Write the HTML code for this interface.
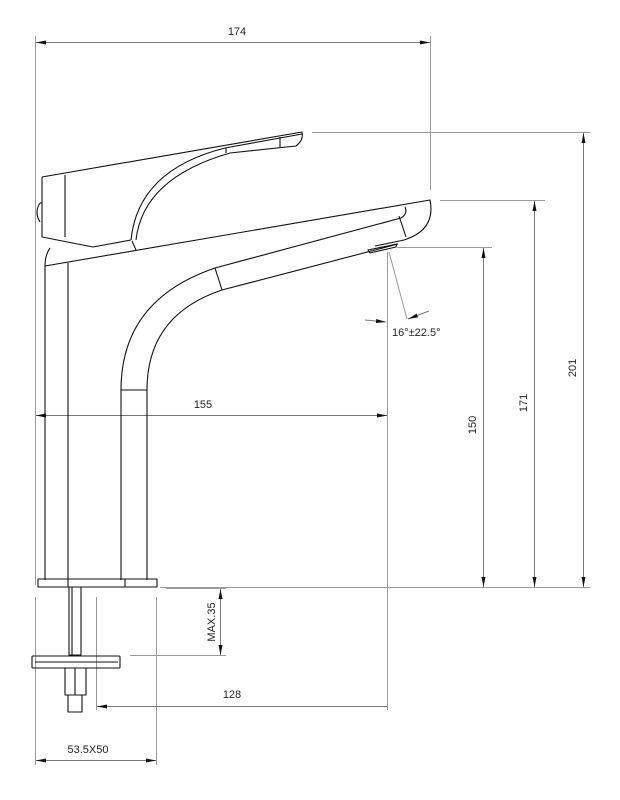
<!DOCTYPE html>
<html><head><meta charset="utf-8"><style>
html,body{margin:0;padding:0;background:#fff;}
svg{display:block;}
text{font-family:"Liberation Sans",sans-serif;font-size:11px;fill:#222;}
</style></head><body>
<svg width="620" height="800" viewBox="0 0 620 800" xmlns="http://www.w3.org/2000/svg">
<defs>
<marker id="a" viewBox="0 0 10 4" refX="10" refY="2" markerWidth="10" markerHeight="4" orient="auto-start-reverse" markerUnits="userSpaceOnUse"><path d="M0,0 L10,2 L0,4 z" fill="#111"/></marker>
</defs>
<g stroke="#999" stroke-width="1" fill="none">
<line x1="35.5" y1="36" x2="35.5" y2="585"/>
<line x1="430.5" y1="36" x2="430.5" y2="190"/>
<line x1="312" y1="132.5" x2="590" y2="132.5"/>
<line x1="440" y1="200.5" x2="545" y2="200.5"/>
<line x1="397" y1="247.5" x2="492" y2="247.5"/>
<line x1="160" y1="587.5" x2="590" y2="587.5"/>
<line x1="387.5" y1="252" x2="387.5" y2="710"/>
<line x1="166" y1="588.5" x2="226" y2="588.5"/>
<line x1="130" y1="655.5" x2="226" y2="655.5"/>
<line x1="96.5" y1="597" x2="96.5" y2="710"/>
<line x1="35.5" y1="597" x2="35.5" y2="765"/>
<line x1="156.5" y1="597" x2="156.5" y2="765"/>
<line x1="389" y1="252" x2="407" y2="319"/>
</g>
<g stroke="#777" stroke-width="1" fill="none">
<line x1="36" y1="42.5" x2="430" y2="42.5" marker-start="url(#a)" marker-end="url(#a)"/>
<line x1="583.5" y1="133" x2="583.5" y2="587" marker-start="url(#a)" marker-end="url(#a)"/>
<line x1="534.5" y1="201" x2="534.5" y2="587" marker-start="url(#a)" marker-end="url(#a)"/>
<line x1="483.5" y1="248" x2="483.5" y2="587" marker-start="url(#a)" marker-end="url(#a)"/>
<line x1="36" y1="415.5" x2="387" y2="415.5" marker-start="url(#a)" marker-end="url(#a)"/>
<line x1="97" y1="706.5" x2="387" y2="706.5" marker-start="url(#a)"/>
<line x1="220.5" y1="589" x2="220.5" y2="655" marker-start="url(#a)" marker-end="url(#a)"/>
<line x1="36" y1="760.5" x2="156" y2="760.5" marker-start="url(#a)" marker-end="url(#a)"/>
<line x1="365" y1="320" x2="386" y2="322" marker-end="url(#a)"/>
<line x1="429" y1="311" x2="408" y2="319" marker-end="url(#a)"/>
</g>
<g stroke="#111" stroke-width="1.1" fill="none" stroke-linejoin="round">
<!-- lever -->
<path d="M42,177 L302,132 Q304,140 296,146 L230,153"/>
<path d="M42,177 L42,237 L93,247 L131,240"/>
<line x1="65" y1="175" x2="65" y2="237"/>
<path d="M136,240 Q143,178 230,153"/>
<path d="M131,240 Q138,170 225,148 L302,134"/>
<line x1="226" y1="148" x2="226" y2="153"/>
<line x1="280" y1="137" x2="280" y2="148"/>
<path d="M40,203 Q34,212 40,222"/>
<line x1="40" y1="203" x2="42" y2="203"/>
<!-- body -->
<path d="M45,266 L430,200 Q436,230 404,240 L375,246"/>
<path d="M50,248 Q45,255 45,266"/>
<path d="M132,241 L136,250"/>
<path d="M405,207 Q408,214 401,218 L215,268 Q121,300 121,390 L121,580"/>
<path d="M399,216 L406,237"/>
<path d="M222,290 Q147,315 147,390 L147,580"/>
<path d="M222,290 L398,244"/>
<line x1="215" y1="268" x2="222" y2="290"/>
<line x1="121" y1="390" x2="147" y2="390"/>
<path d="M368,250 L397,244 L396,247 L370,253 Z"/>
<line x1="45" y1="266" x2="45" y2="580"/>
<line x1="68" y1="263" x2="68" y2="580"/>
<!-- base -->
<rect x="38" y="579" width="119" height="8"/>
<line x1="68" y1="579" x2="68" y2="587"/>
<line x1="125" y1="579" x2="125" y2="587"/>
<rect x="69" y="587" width="12" height="68"/>
<line x1="72" y1="587" x2="72" y2="655"/>
<rect x="32" y="656" width="88" height="12" rx="1"/>
<line x1="35" y1="662" x2="118" y2="662"/>
<rect x="65" y="668" width="21" height="27"/>
<line x1="75" y1="668" x2="75" y2="695"/>
<rect x="68" y="695" width="14" height="17"/>
</g>
<text x="237" y="35" text-anchor="middle">174</text>
<text x="203" y="408" text-anchor="middle">155</text>
<text x="232" y="698" text-anchor="middle">128</text>
<text x="88" y="753" text-anchor="middle">53.5X50</text>
<text x="392" y="336" font-size="11">16°±22.5°</text>
<text transform="translate(576,368) rotate(-90)" text-anchor="middle">201</text>
<text transform="translate(527,403) rotate(-90)" text-anchor="middle">171</text>
<text transform="translate(476,425) rotate(-90)" text-anchor="middle">150</text>
<text transform="translate(215,622) rotate(-90)" text-anchor="middle">MAX.35</text>
</svg>
</body></html>
